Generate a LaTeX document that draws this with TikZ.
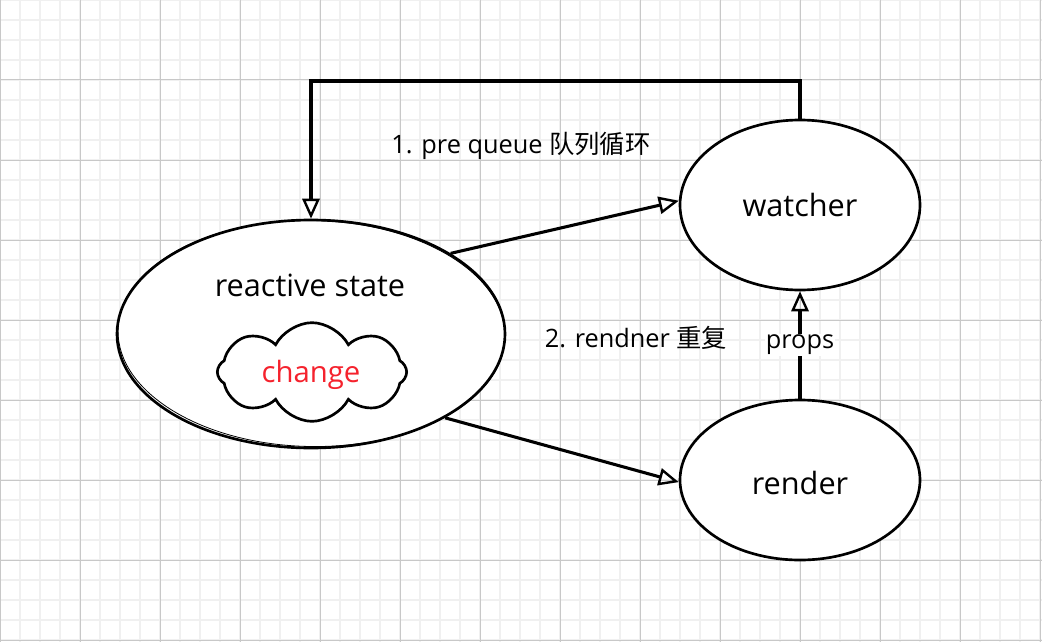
\documentclass[tikz,border=0pt]{standalone}
\usepackage{fontspec}
\setmainfont{Open Sans}
\newfontfamily\cjk{Noto Sans CJK SC}
\usetikzlibrary{shapes.geometric,shapes.symbols,arrows.meta}
\definecolor{minorgrid}{HTML}{F0F0F0}
\definecolor{majorgrid}{HTML}{C8C8C8}
\definecolor{changered}{HTML}{F5222D}
\tikzset{
  minorline/.style={minorgrid, line width=1.5pt},
  majorline/.style={majorgrid, line width=0.75pt},
  sketch/.style={draw=black, line width=2pt, fill=white},
  arr/.style={line width=2.3pt, -{Triangle[open, length=15pt, width=13pt, line width=1.8pt]}},
  bigtext/.style={font=\fontsize{23}{27}\selectfont, inner sep=0pt},
  labeltext/.style={font=\fontsize{19}{23}\selectfont, inner sep=1pt}
}
\begin{document}
\begin{tikzpicture}[x=0.75pt, y=-0.75pt]
\useasboundingbox (0,0) rectangle (1042,642);
\fill[white] (0,0) rectangle (1042,642);
% grid
\foreach \i in {0,20,...,1040} \draw[minorline] (\i,0) -- (\i,642);
\foreach \j in {0,20,...,640} \draw[minorline] (0,\j) -- (1042,\j);
\foreach \i in {0,80,...,1040} \draw[majorline] (\i,0) -- (\i,642);
\foreach \j in {0,80,...,640} \draw[majorline] (0,\j) -- (1042,\j);

% nodes
\node[sketch, ellipse, minimum width=291pt, minimum height=171pt, inner sep=0pt] (rs) at (311,334) {};
\draw[line width=0.6pt, rotate around={-1:(311,334)}] (311.5,333.5) ellipse [x radius=193.5, y radius=113];
\node[bigtext] (rstext) at (310,285) {reactive state};
\node[sketch, cloud, cloud puffs=8, cloud puff arc=125, aspect=1.9, minimum width=142pt, minimum height=74pt, inner sep=0pt] (cl) at (312,372) {};
\node[bigtext, text=changered, font=\fontsize{22}{26}\selectfont] (chg) at (311,375) {change};

\node[sketch, ellipse, minimum width=180pt, minimum height=127.5pt, inner sep=0pt] (w) at (800,205) {};
\node[bigtext] (wtext) at (800,205) {watcher};
\node[sketch, ellipse, minimum width=180pt, minimum height=120pt, inner sep=0pt] (r) at (800,480) {};
\node[bigtext] (rtext) at (800,483) {render};

% connectors
\coordinate (looptop) at (556,81);
\draw[arr] (w.north) |- (looptop) -| (rs.north);
\draw[arr] (rs.30) -- (w.178);
\draw[arr] (rs.-32) -- (r.181);
\draw[arr] (r.north) -- node[labeltext, fill=white] (props) {props} (w.south);

% labels
\node[labeltext] (l1) at (521,146) {1. pre queue {\cjk 队列循环}};
\node[labeltext] (l2) at (636,338) {2. rendner {\cjk 重复}};
\end{tikzpicture}
\end{document}
